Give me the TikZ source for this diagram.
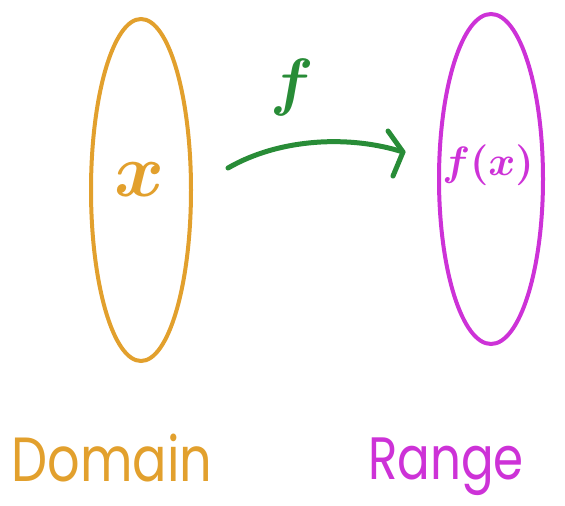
\documentclass[tikz,border=0pt]{standalone}
\usepackage{fontspec}
\setsansfont{Poppins}
\usetikzlibrary{shapes.geometric}
\definecolor{dorange}{RGB}{226,160,45}
\definecolor{rmag}{RGB}{205,50,215}
\definecolor{fgreen}{RGB}{40,140,55}
\tikzset{
  setshape/.style={draw, ellipse, line width=4pt, inner sep=0pt},
  lbl/.style={font=\sffamily\fontsize{52}{52}\selectfont, inner sep=0pt},
  mlbl/.style={inner sep=0pt, font=\boldmath},
  fline/.style={fgreen, line width=5pt, line cap=round, line join=round},
}
\begin{document}
\begin{tikzpicture}[x=1pt,y=-1pt]
\useasboundingbox (0,0) rectangle (565,506);
\node[setshape, dorange, minimum width=100pt, minimum height=342pt] (dom) at (141,190) {};
\node[setshape, rmag, minimum width=104pt, minimum height=330pt] (ran) at (491,179) {};
\node[mlbl, dorange] (xv) at (140,180) {\scalebox{7.6}{$x$}};
\node[mlbl, rmag] (fx) at (488,165) {\scalebox{4.1}{$f(x)$}};
\node[mlbl, fgreen] (fl) at (292,87) {\scalebox{6.4}{$f$}};
\coordinate (a1) at (228,168);
\coordinate (a2) at (403,152);
\coordinate (h1) at (388,131);
\coordinate (h2) at (393,176);
\draw[fline] (a1) .. controls (280,138) and (350,135) .. (a2);
\draw[fline] (h1) -- (a2) -- (h2);
\node[lbl, dorange, anchor=base] (dlab) at (112,481) {\scalebox{0.98}[1.2]{Domain}};
\node[lbl, rmag, anchor=base] (rlab) at (446,479) {\scalebox{0.93}[1.15]{Range}};
\end{tikzpicture}
\end{document}
